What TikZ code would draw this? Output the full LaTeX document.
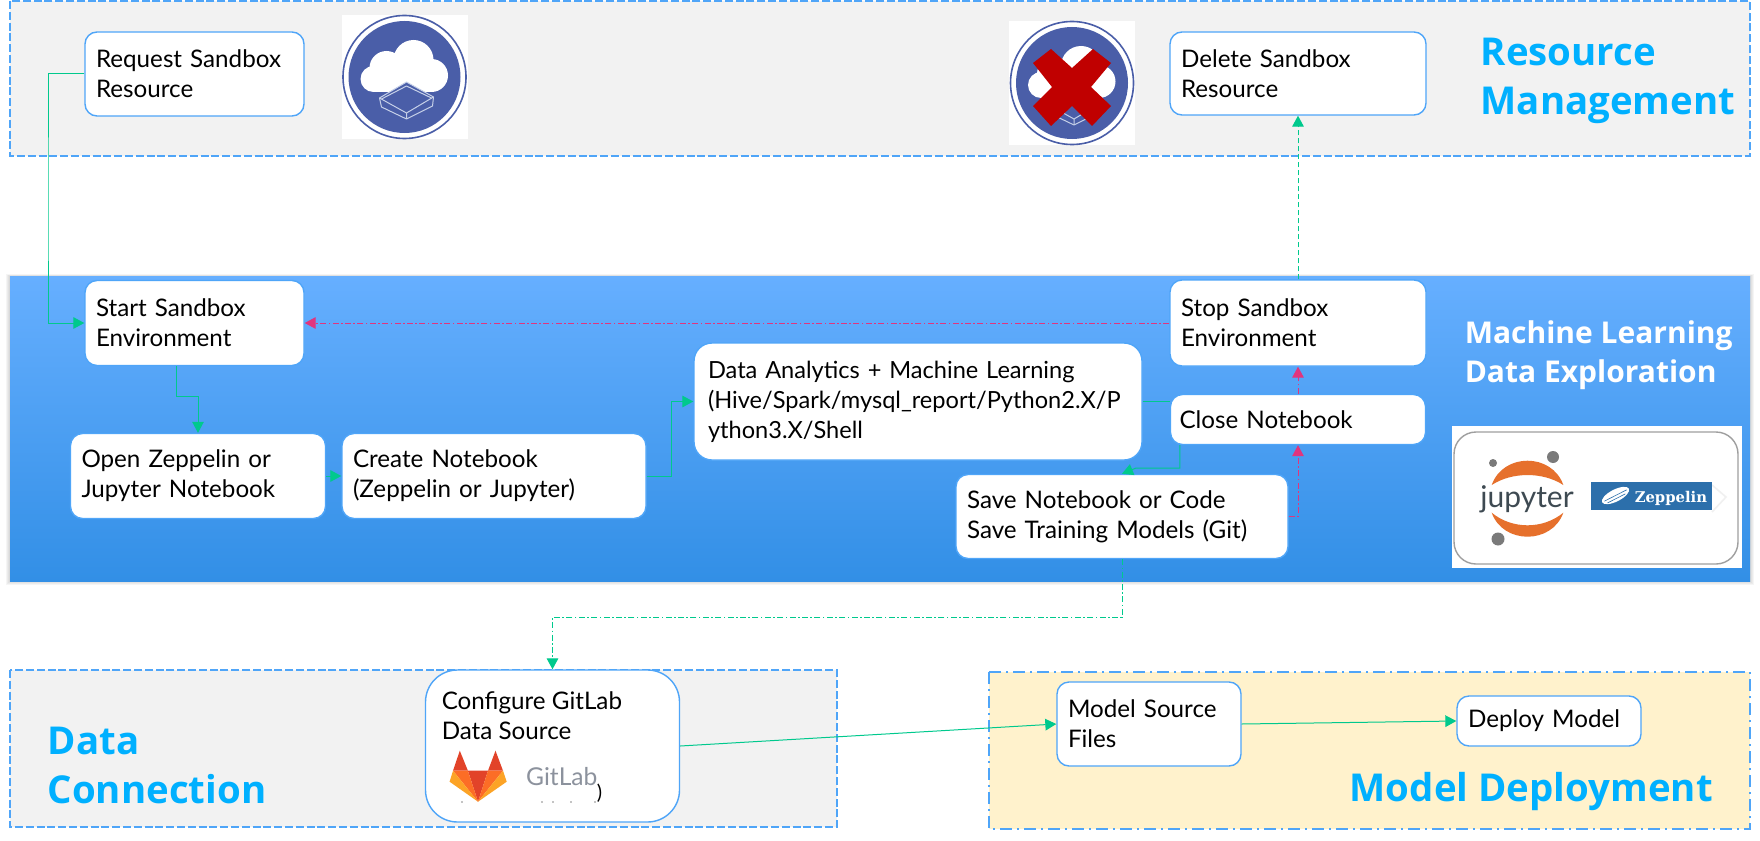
\documentclass[tikz,border=0pt]{standalone}
\usepackage{fontspec}
\setmainfont{Lato}
\newfontfamily\headfont{Open Sans}
\newfontfamily\zepfont{DejaVu Serif}
\usetikzlibrary{arrows.meta}

\definecolor{panelgrey}{HTML}{F2F2F2}
\definecolor{paneltan}{HTML}{FFF2CC}
\definecolor{edgeblue}{HTML}{4FA5F8}
\definecolor{headblue}{HTML}{00B0FF}
\definecolor{flowgreen}{HTML}{00C98D}
\definecolor{flowpink}{HTML}{E0357E}
\definecolor{logoblue}{HTML}{4A5EA8}
\definecolor{logoline}{HTML}{C6D0E8}
\definecolor{crossred}{HTML}{C00000}
\definecolor{jupyterorange}{HTML}{E6702C}
\definecolor{jupyterdark}{HTML}{3E4A52}
\definecolor{zeppelinblue}{HTML}{2C6FAB}
\definecolor{gitred}{HTML}{E24329}
\definecolor{gitorange}{HTML}{FC6D26}
\definecolor{gitamber}{HTML}{FCA326}
\definecolor{gitgrey}{HTML}{8C929D}
\definecolor{shadetop}{HTML}{66AFFF}
\definecolor{shademid}{HTML}{40A3FF}
\definecolor{shadebot}{HTML}{328FE6}

\tikzset{every picture/.style={line width=0.75pt}}
\tikzset{
	panelline/.style={draw=edgeblue,line width=0.75pt,dash pattern=on 4pt off 1.4pt},
	flowbox/.style={draw=edgeblue,fill=white,rounded corners=6pt,line width=0.7pt,inner xsep=5.5pt,inner ysep=0pt,align=left,font=\fontsize{12.1}{15}\selectfont},
	headtext/.style={anchor=west,inner sep=0pt,align=left,text=headblue,font=\headfont\bfseries\fontsize{19.2}{24.5}\selectfont},
	flowline/.style={draw=flowgreen,line width=0.5pt,-{Triangle[length=5.5pt,width=5.8pt]}},
	backline/.style={draw=flowpink,line width=0.5pt,dash pattern=on 3pt off 1.2pt on 0.8pt off 1.2pt,-{Triangle[length=5.5pt,width=5.8pt]}},
	cloudlogo/.pic={
		\fill[white] (-63,-62) rectangle (63,62);
		\draw[logoblue,line width=0.8pt] (0,0) circle (61.5);
		\fill[logoblue] (0,0) circle (56);
		\fill[white] (-31,2) circle (13) (-18,-9) circle (17) (9,-17) circle (20) (27,-1.5) circle (16.5);
		\fill[white] (-31,-6) rectangle (27,15);
		\draw[logoline,fill=logoblue,line width=0.5pt,line join=round] (2,5) -- (-25,21) -- (-23,30) -- (2,42) -- (28,29) -- (29,20) -- cycle;
		\draw[logoline,line width=0.5pt,line join=round] (-25,21) -- (2,36) -- (29,20) (-23,22) -- (2,9) -- (27,21) (2,36) -- (2,42);
	}
}

\begin{document}
\begin{tikzpicture}[x=0.5pt,y=0.5pt,yscale=-1]
	\useasboundingbox (0,0) rectangle (1760,840);

	% panels
	\fill[panelgrey,panelline] (10,1) rectangle (1750,156);
	\fill[panelgrey,panelline] (10,670) rectangle (837,827);
	\fill[paneltan,panelline,dash pattern=on 6pt off 2.5pt on 1pt off 2.5pt] (989,672) rectangle (1750,829);
	\foreach \s in {4,3,2,1}
		\fill[black,opacity=0.04] (10-\s,276-\s/2) rectangle (1750+\s,581+\s);
	\shade[top color=shadetop,middle color=shademid,bottom color=shadebot] (10,276) rectangle (1750,581);

	% logos
	\pic[yscale=-1] at (404.5,77) {cloudlogo};
	\pic[yscale=-1] at (1072,83) {cloudlogo};
	\fill[crossred] (1051,49) -- (1033,63) -- (1052,87) -- (1033,106) -- (1051,126) -- (1072,106) -- (1092,126) -- (1111,106) -- (1091,87) -- (1111,63) -- (1093,49) -- (1072,68) -- cycle;

	\fill[white] (1452,426) rectangle (1742,568);
	\draw[gray!75,line width=0.7pt,rounded corners=11pt] (1454,432) rectangle (1738,564);
	\fill[black!52] (1493,463) circle (4) (1553,457) circle (6) (1498,539) circle (6.5);
	\fill[jupyterorange] (1491.7,485) .. controls (1503,452.6) and (1552,452.6) .. (1563.3,485) .. controls (1543,471.7) and (1512,471.7) .. (1491.7,485) -- cycle;
	\fill[jupyterorange] (1491.7,512.7) .. controls (1503,544.7) and (1552,544.7) .. (1563.3,512.7) .. controls (1543,529.5) and (1512,529.5) .. (1491.7,512.7) -- cycle;
	\node[anchor=base,inner sep=0pt,text=jupyterdark,font=\fontsize{15}{15}\selectfont] (jupytertext) at (1527,507) {jupyter};
	\draw[black!6,line width=0.8pt] (1712,485) -- (1726,497) -- (1712,512);
	\fill[zeppelinblue] (1591,482) rectangle (1712,510);
	\fill[white,rotate around={-27:(1615.5,495.5)}] (1615.5,495.5) ellipse (15 and 6);
	\draw[zeppelinblue,line width=0.3pt,rotate around={-27:(1615.5,495.5)}] (1603,495.5) -- (1628,495.5) (1605,498.5) -- (1625,498.5);
	\node[anchor=base west,inner sep=0pt,text=white,font=\zepfont\bfseries\fontsize{7.4}{8}\selectfont] (zeppelintext) at (1634,502) {Zeppelin};

	% boxes
	\node[flowbox,text width=98.5pt,minimum height=42pt] (request) at (194.5,74) {Request Sandbox\\Resource};
	\node[flowbox,text width=117pt,minimum height=41.5pt] (delete) at (1298,73.5) {Delete Sandbox\\Resource};
	\node[flowbox,text width=98.5pt,minimum height=42.5pt] (start) at (194.5,323) {Start Sandbox\\Environment};
	\node[flowbox,text width=116.5pt,minimum height=42.5pt] (open) at (198,476) {Open Zeppelin or\\Jupyter Notebook};
	\node[flowbox,text width=141pt,minimum height=42.5pt] (create) at (494,476) {Create Notebook\\(Zeppelin or Jupyter)};
	\node[flowbox,inner xsep=7pt,text width=210pt,minimum height=58.5pt,rounded corners=9pt,font=\fontsize{11.8}{15}\selectfont] (analytics) at (918,401.5) {Data Analytics + Machine Learning\\(Hive/Spark/mysql\_report/Python2.X/P\\ython3.X/Shell};
	\node[flowbox,inner xsep=4.5pt,text width=118.5pt,minimum height=25pt] (close) at (1298,419.5) {Close Notebook};
	\node[flowbox,text width=117pt,minimum height=43pt] (stop) at (1298,323) {Stop Sandbox\\Environment};
	\node[flowbox,text width=155pt,minimum height=42pt] (save) at (1122,516.5) {Save Notebook or Code\\Save Training Models (Git)};
	\node[flowbox,rounded corners=16pt,text width=116pt,minimum height=76pt] (gitlab) at (552.5,746) {};
	\node[anchor=north west,inner sep=0pt,align=left,font=\fontsize{12.1}{15}\selectfont] (gitlabtitle) at (441,691) {Configure GitLab\\Data Source};
	\node[flowbox,text width=81pt,minimum height=42pt] (model) at (1149,724) {Model Source\\Files};
	\node[flowbox,text width=81pt,minimum height=25pt] (deploy) at (1549,721) {Deploy Model};

	% gitlab logo
	\fill[gitred] (467.9,770.7) -- (488,770.7) -- (478,801.7) -- cycle (459.8,750.7) -- (467.9,770.7) -- (453,770.7) -- cycle (495.5,750.7) -- (488,770.7) -- (503,770.7) -- cycle;
	\fill[gitorange] (453,770.7) -- (467.9,770.7) -- (478,801.7) -- cycle (503,770.7) -- (488,770.7) -- (478,801.7) -- cycle;
	\fill[gitamber] (453,770.7) -- (449.6,781.7) -- (478,801.7) -- cycle (503,770.7) -- (506.7,781.7) -- (478,801.7) -- cycle;
	\node[anchor=base west,inner sep=0pt,text=gitgrey,font=\fontsize{12.3}{13}\selectfont] (gitlabword) at (525.4,785) {GitLab};
	\node[anchor=base west,inner sep=0pt,font=\fontsize{10}{10}\selectfont] (gitlabparen) at (596,799) {)};
	\foreach \x in {462,542,553,571,595}
		\fill (\x,802) circle (0.7);

	% headings
	\node[headtext] (headresource) at (1480,81) {Resource\\Management};
	\node[headtext] (headdata) at (47,765) {Data\\Connection};
	\node[headtext,anchor=base west] (headdeploy) at (1349,801) {Model Deployment};
	\node[anchor=west,inner sep=0pt,align=left,text=white,font=\headfont\bfseries\fontsize{15}{19.6}\selectfont] (headml) at (1464,355) {Machine Learning\\Data Exploration};

	% connectors
	\coordinate (leftbus) at (48,200);
	\coordinate (saveturn) at (1136,468);
	\draw[flowline] (request.west) -| (leftbus) |- (start.west);
	\draw[flowline] ([xshift=-9.25pt]start.south) -- ++(0,30) -| (open.north);
	\draw[flowline] (open.east) -- (create.west);
	\draw[flowline] (create.east) -- ++(25,0) |- (analytics.west);
	\draw[draw=flowgreen,line width=0.5pt] (analytics.east) -- (close.west |- analytics.east);
	\draw[flowline] ([xshift=5pt]close.south west) |- (saveturn) -- (save.north);
	\draw[backline] (save.east) -| (close.south);
	\draw[backline] (close.north) -- (stop.south);
	\draw[backline] (stop.west) -- (start.east);
	\draw[flowline,dash pattern=on 2.5pt off 1.5pt] (stop.north) -- (delete.south);
	\draw[flowline,dash pattern=on 3pt off 1.2pt on 0.8pt off 1.2pt] (save.south) -- ++(0,58) -| (gitlab.north);
	\draw[flowline] (gitlab.east) -- (model.west);
	\draw[flowline] (model.east) -- (deploy.west);
\end{tikzpicture}
\end{document}
